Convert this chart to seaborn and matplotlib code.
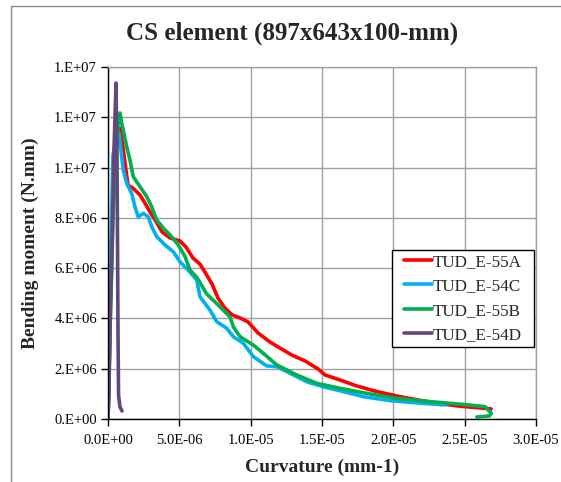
import numpy as np
import pandas as pd
import matplotlib
matplotlib.use("Agg")
import matplotlib.pyplot as plt
from matplotlib.ticker import FuncFormatter
from matplotlib.lines import Line2D
from matplotlib.patches import Rectangle
import seaborn as sns

# Moment-curvature readings per specimen (curvature in 1e-6 mm^-1, moment in 1e6 N.mm)
series_names = ["TUD_E-55A", "TUD_E-54C", "TUD_E-55B", "TUD_E-54D"]
series_colors = ["#FF0000", "#00B0F0", "#00B050", "#604A7B"]

curv_55A = [0, 0.07, 0.14, 0.28, 0.49, 0.70, 0.84, 0.98, 1.12, 1.26, 1.40, 1.75, 2.24, 2.59, 2.95,
            3.44, 3.79, 4.35, 5.05, 5.47, 5.96, 6.45, 6.80, 7.29, 7.71, 8.20, 8.69, 9.26, 9.82, 10.52,
            11.36, 12.06, 12.90, 13.81, 14.73, 15.22, 16.27, 17.46, 18.72, 20.27, 22.09, 24.47, 26.86]
mom_55A = [0, 1.55, 4.73, 7.91, 10.30, 11.29, 11.57, 11.10, 10.50, 9.90, 9.30, 9.18, 8.91, 8.59, 8.23,
           7.79, 7.44, 7.20, 7.08, 6.84, 6.40, 6.16, 5.84, 5.37, 4.81, 4.41, 4.14, 4.02, 3.86, 3.42,
           3.06, 2.82, 2.54, 2.31, 1.99, 1.75, 1.55, 1.31, 1.11, 0.91, 0.72, 0.52, 0.40]

curv_54C = [0, 0.14, 0.21, 0.35, 0.56, 0.77, 0.96, 1.07, 1.31, 1.66, 1.89, 2.12, 2.48, 2.83, 3.06,
            3.42, 4.00, 4.58, 5.05, 5.75, 6.22, 6.45, 7.15, 7.62, 8.32, 8.79, 9.49, 10.19, 11.13, 11.83,
            12.76, 13.93, 15.10, 16.50, 17.90, 19.78, 22.11, 23.63]
mom_54C = [0, 3.50, 7.12, 10.50, 11.10, 11.37, 10.43, 9.90, 9.37, 8.97, 8.44, 8.04, 8.18, 8.04, 7.65,
           7.25, 6.92, 6.65, 6.25, 5.84, 5.53, 4.86, 4.33, 3.87, 3.61, 3.27, 3.01, 2.48, 2.11, 2.08,
           1.82, 1.48, 1.28, 1.09, 0.89, 0.73, 0.62, 0.56]

curv_55B = [0, 0.14, 0.35, 0.56, 0.70, 0.84, 0.96, 1.07, 1.31, 1.54, 1.77, 2.24, 2.71, 3.06, 3.41,
            3.88, 4.35, 4.93, 5.40, 5.75, 6.22, 6.92, 7.62, 8.55, 8.79, 9.26, 10.19, 10.89, 11.83, 13.23,
            14.63, 16.27, 18.14, 20.24, 22.58, 24.91, 26.44, 26.86, 26.72, 25.86]
mom_55B = [0, 3.54, 7.91, 10.70, 11.69, 12.17, 11.76, 11.49, 10.83, 10.30, 9.64, 9.24, 8.85, 8.45, 7.92,
           7.59, 7.32, 6.92, 6.46, 5.92, 5.64, 4.97, 4.59, 4.06, 3.66, 3.27, 2.94, 2.61, 2.15, 1.75,
           1.42, 1.22, 1.02, 0.82, 0.69, 0.58, 0.49, 0.23, 0.12, 0.08]

curv_54D = [0, 0.07, 0.14, 0.28, 0.42, 0.56, 0.63, 0.67, 0.70, 0.74, 0.84, 0.98]
mom_54D = [0, 1.15, 3.54, 6.72, 10.70, 13.36, 10.70, 6.72, 3.54, 0.95, 0.48, 0.32]

x_ticks = [0, 5e-6, 1e-5, 1.5e-5, 2e-5, 2.5e-5, 3e-5]
y_ticks = [0, 2e6, 4e6, 6e6, 8e6, 1e7, 1.2e7, 1.4e7]

frames = []
for name, cx, my in [("TUD_E-55A", curv_55A, mom_55A), ("TUD_E-54C", curv_54C, mom_54C),
                     ("TUD_E-55B", curv_55B, mom_55B), ("TUD_E-54D", curv_54D, mom_54D)]:
    frames.append(pd.DataFrame({
        "curvature": np.array(cx) * 1e-6,
        "moment": np.array(my) * 1e6,
        "specimen": name,
    }))
df = pd.concat(frames, ignore_index=True)

sns.set_style("whitegrid")
plt.rcParams["font.family"] = ["Liberation Serif", "DejaVu Serif"]

fig = plt.figure(figsize=(5.61, 4.82), dpi=100)
ax = fig.add_axes([108 / 561, 63 / 482, 428 / 561, 352 / 482])

line_w = 2.6
sns.lineplot(data=df, x="curvature", y="moment", hue="specimen", hue_order=series_names,
             palette=series_colors, sort=False, estimator=None, units="specimen",
             linewidth=line_w, ax=ax, legend=False)

ax.set_xlim(0, 3e-5)
ax.set_ylim(0, 1.4e7)
ax.set_xticks(x_ticks)
ax.set_yticks(y_ticks)
ax.xaxis.set_major_formatter(FuncFormatter(lambda v, p: f"{v:.1E}"))


def excel_sci(v, p):
    mant, exp = f"{v:.0E}".split("E")
    return f"{mant}.E{exp}"


ax.yaxis.set_major_formatter(FuncFormatter(excel_sci))

ax.grid(True, color="#A0A0A0", linewidth=1.0)
ax.set_facecolor("white")
for side in ["top", "right"]:
    ax.spines[side].set_color("#A0A0A0")
    ax.spines[side].set_linewidth(1.0)
for side in ["left", "bottom"]:
    ax.spines[side].set_color("black")
    ax.spines[side].set_linewidth(1.0)

ax.tick_params(axis="both", which="major", direction="out", length=5, width=1,
               color="black", labelsize=10.5, labelcolor="black",
               left=True, bottom=True)
ax.tick_params(axis="x", pad=6)
ax.tick_params(axis="y", pad=3)

ax.set_xlabel("Curvature (mm-1)", fontsize=14, fontweight="bold", labelpad=8)
ax.set_ylabel("Bending moment (N.mm)", fontsize=14, fontweight="bold", labelpad=11)
fig.text(292 / 561, 1 - 33 / 482, "CS element (897x643x100-mm)", ha="center", va="center",
         fontsize=18, fontweight="bold")

# Legend box, with the entries centred inside it
box_x0, box_x1, box_y0, box_y1 = 0.6636, 0.995, 0.2045, 0.480
ax.add_patch(Rectangle((box_x0, box_y0), box_x1 - box_x0, box_y1 - box_y0,
                       transform=ax.transAxes, facecolor="white", edgecolor="black",
                       linewidth=1.0, zorder=4.9))
handles = [Line2D([0], [0], color=c, linewidth=line_w) for c in series_colors]
leg = ax.legend(handles, series_names, loc="center",
                bbox_to_anchor=((box_x0 + box_x1) / 2, (box_y0 + box_y1) / 2),
                borderaxespad=0, fontsize=12.3, frameon=False,
                handlelength=1.65, handletextpad=0.05, labelspacing=0.5, borderpad=0.0)
leg.set_zorder(5)

# Outer chart-area border
fig.add_artist(Line2D([10.5 / 561, 10.5 / 561], [0, 1 - 6 / 482], transform=fig.transFigure,
                      color="#8C8C8C", linewidth=1.0))
fig.add_artist(Line2D([10.5 / 561, 1], [1 - 6 / 482, 1 - 6 / 482], transform=fig.transFigure,
                      color="#8C8C8C", linewidth=1.0))

fig.savefig("out.png", dpi=100)
